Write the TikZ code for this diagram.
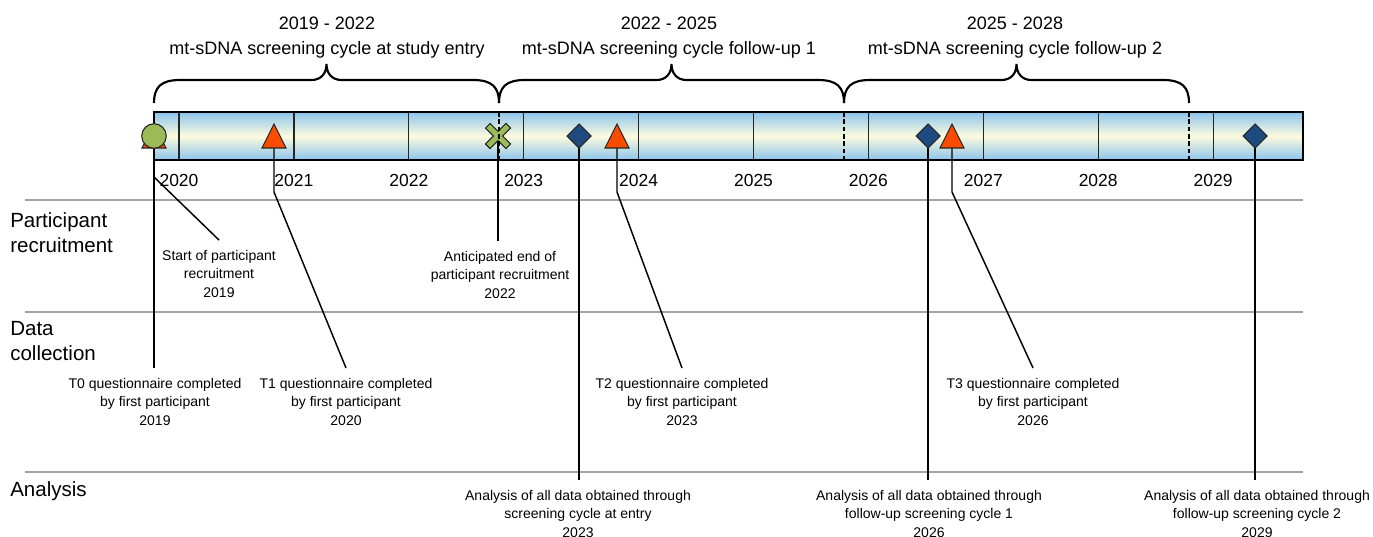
\documentclass[tikz,border=0pt]{standalone}
\usepackage{fontspec}
\setmainfont{Liberation Sans}
\definecolor{trired}{RGB}{250,76,0}
\definecolor{diablue}{RGB}{31,74,128}
\definecolor{symgreen}{RGB}{155,187,89}
\definecolor{barblue}{RGB}{140,196,236}
\definecolor{barcream}{RGB}{253,251,222}
\definecolor{sepgray}{RGB}{165,165,165}
\tikzset{
  symline/.style={draw=black!85, line width=0.8pt, line join=miter},
  conn/.style={draw=black, line width=1.1pt},
  sepline/.style={draw=sepgray, line width=0.9pt},
  bracepath/.style={draw=black, line width=1.6pt},
  divline/.style={draw=black!85, line width=0.9pt},
  cycledash/.style={draw=black, line width=0.8pt, dash pattern=on 3.5pt off 2pt},
  yearlabel/.style={font=\fontsize{13.1}{15}\selectfont, inner sep=0pt},
  heading/.style={font=\fontsize{13.5}{18.75}\selectfont, align=center, inner sep=0pt, anchor=north},
  rowlabel/.style={font=\fontsize{15.4}{18.75}\selectfont, align=left, inner sep=0pt, anchor=north west},
  annot/.style={font=\fontsize{10.5}{13.9}\selectfont, align=center, inner xsep=0pt, inner ysep=7.5pt, anchor=north},
  pics/redtri/.style={code={\filldraw[symline, fill=trired] (-12,12) -- (12,12) -- (0,-12) -- cycle;}},
  pics/bluedia/.style={code={\filldraw[symline, fill=diablue] (0,-12) -- (12,0) -- (0,12) -- (-12,0) -- cycle;}},
  pics/greencirc/.style={code={\filldraw[symline, fill=symgreen] (0,0) circle[radius=9.2pt];}},
  pics/greenx/.style={code={\filldraw[symline, fill=symgreen, rotate=45]
     (3.2,14.5) -- (3.2,3.2) -- (14.5,3.2) -- (14.5,-3.2) -- (3.2,-3.2) -- (3.2,-14.5) --
     (-3.2,-14.5) -- (-3.2,-3.2) -- (-14.5,-3.2) -- (-14.5,3.2) -- (-3.2,3.2) -- (-3.2,14.5) -- cycle;}}
}
\begin{document}
\begin{tikzpicture}[x=0.75pt, y=-0.75pt]
\useasboundingbox (0,0) rectangle (1373,536);

% headings
\node[heading] (h1) at (327,17) {2019 - 2022\\mt-sDNA screening cycle at study entry};
\node[heading] (h2) at (669,17) {2022 - 2025\\mt-sDNA screening cycle follow-up 1};
\node[heading] (h3) at (1015,17) {2025 - 2028\\mt-sDNA screening cycle follow-up 2};

% braces
\foreach \a/\b in {154/499, 499/844, 844/1189} {
  \pgfmathsetmacro\m{(\a+\b)/2}
  \draw[bracepath] (\a,103) .. controls (\a,87) and ({\a+7},80) .. ({\a+26},80)
     -- ({\m-15},80) .. controls ({\m-6},80) and (\m,74) .. (\m,64)
     .. controls (\m,74) and ({\m+6},80) .. ({\m+15},80)
     -- ({\b-26},80) .. controls ({\b-7},80) and (\b,87) .. (\b,103);
}

% separator lines
\draw[sepline] (25,200) -- (1303,200);
\draw[sepline] (25,312) -- (1303,312);
\draw[sepline] (25,472) -- (1303,472);

% row labels
\node[rowlabel] (r1) at (10,212) {Participant\\recruitment};
\node[rowlabel] (r2) at (10,321) {Data\\collection};
\node[rowlabel] (r3) at (10,481) {Analysis};

% bar
\shade[top color=barblue, bottom color=barblue, middle color=barcream] (154,112) rectangle (1303,160);
\foreach \i in {0,...,9} {
  \pgfmathsetmacro\xx{179+114.9*\i}
  \pgfmathtruncatemacro\yr{2020+\i}
  \draw[divline] (\xx,112) -- (\xx,160);
  \node[yearlabel] (yr\yr) at (\xx,180) {\yr};
}
\draw[line width=1.1pt] (154,112) rectangle (1303,160);

% symbol positions
\coordinate (s0) at (154,136);
\coordinate (t1) at (274,136);
\coordinate (x0) at (498,136);
\coordinate (d1) at (579,136);
\coordinate (t2) at (617,136);
\coordinate (d2) at (928,136);
\coordinate (t3) at (952,136);
\coordinate (d3) at (1255,136);

% annotations
\node[annot] (nS) at (219,240) {Start of participant\\recruitment\\2019};
\node[annot] (nA) at (500,241) {Anticipated end of\\participant recruitment\\2022};
\node[annot] (nT0) at (155,368) {T0 questionnaire completed\\by first participant\\2019};
\node[annot] (nT1) at (346,368) {T1 questionnaire completed\\by first participant\\2020};
\node[annot] (nT2) at (682,368) {T2 questionnaire completed\\by first participant\\2023};
\node[annot] (nT3) at (1033,368) {T3 questionnaire completed\\by first participant\\2026};
\node[annot] (nAn1) at (578,480) {Analysis of all data obtained through\\screening cycle at entry\\2023};
\node[annot] (nAn2) at (929,480) {Analysis of all data obtained through\\follow-up screening cycle 1\\2026};
\node[annot] (nAn3) at (1257,480) {Analysis of all data obtained through\\follow-up screening cycle 2\\2029};

% connectors
\draw[conn] (s0) -- (s0 |- nT0.north);
\coordinate (sb) at (154,177);
\draw[conn] (sb) -- (nS.north);
\draw[conn] (t1) -- ++(0,56) -- (nT1.north);
\draw[conn] (x0) -- (x0 |- nA.north);
\draw[conn] (d1) -- (d1 |- nAn1.north);
\draw[conn] (t2) -- ++(0,56) -- (nT2.north);
\draw[conn] (d2) -- (d2 |- nAn2.north);
\draw[conn] (t3) -- ++(0,56) -- (nT3.north);
\draw[conn] (d3) -- (d3 |- nAn3.north);

% symbols
\pic at (s0) {redtri};
\pic at (s0) {greencirc};
\pic at (t1) {redtri};
\pic at (x0) {greenx};
\pic at (d1) {bluedia};
\pic at (t2) {redtri};
\pic at (d2) {bluedia};
\pic at (t3) {redtri};
\pic at (d3) {bluedia};

% cycle boundaries
\draw[cycledash] (499,112) -- (499,160);
\draw[cycledash] (844,112) -- (844,160);
\draw[cycledash] (1189,112) -- (1189,160);
\end{tikzpicture}
\end{document}
